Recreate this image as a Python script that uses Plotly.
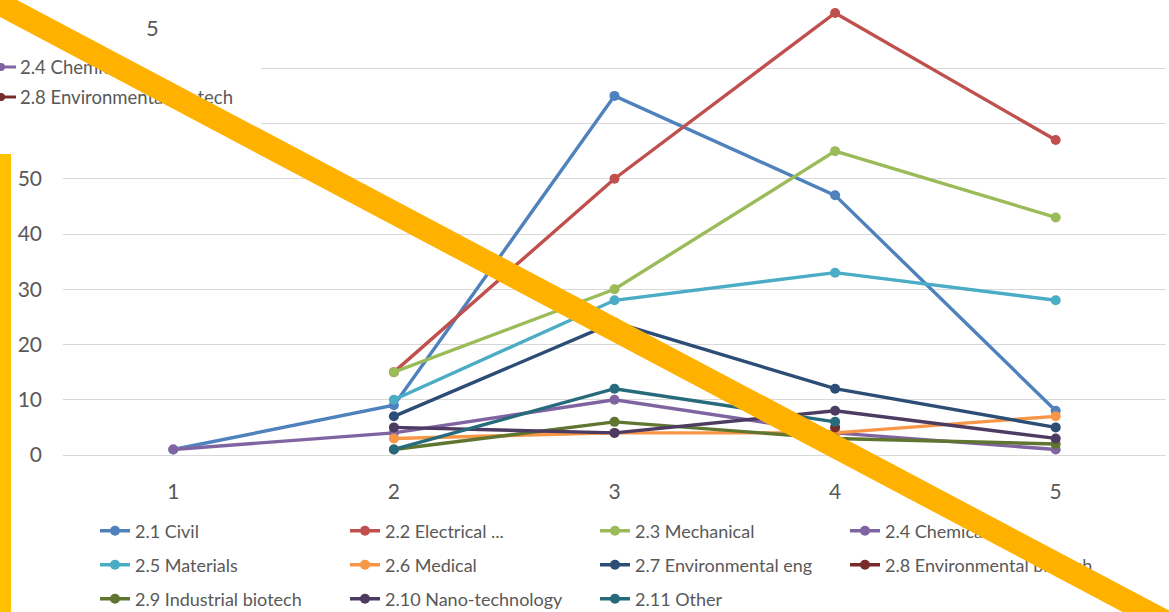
import plotly.graph_objects as go

# Year categories on the horizontal axis
years = [1, 2, 3, 4, 5]
tick_values = [0, 10, 20, 30, 40, 50, 60, 70, 80]
tick_text = ["0", "10", "20", "30", "40", "50", "", "", ""]

# Series values per year (None = no entry)
civil = [1, 9, 65, 47, 8]
electrical = [None, 15, 50, 80, 57]
mechanical = [None, 15, 30, 55, 43]
chemical = [1, 4, 10, 4, 1]
materials = [None, 10, 28, 33, 28]
medical = [None, 3, 4, 4, 7]
env_eng = [None, 7, 24, 12, 5]
env_biotech = [None, None, None, 5, None]
industrial_biotech = [None, 1, 6, 3, 2]
nano = [None, 5, 4, 8, 3]
other = [None, 1, 12, 6, None]

series_names = [
    "2.1 Civil", "2.2 Electrical ...", "2.3 Mechanical", "2.4 Chemical",
    "2.5 Materials", "2.6 Medical", "2.7 Environmental eng", "2.8 Environmental biotech",
    "2.9 Industrial biotech", "2.10 Nano-technology", "2.11 Other",
]
series_values = [civil, electrical, mechanical, chemical, materials, medical,
                 env_eng, env_biotech, industrial_biotech, nano, other]
series_colors = ["#4F81BD", "#C0504D", "#9BBB59", "#8064A2", "#4BACC6", "#F79646",
                 "#2C4D75", "#772C2A", "#5F7530", "#4D3B62", "#276A7C"]
legend_rows = ["legend"] * 4 + ["legend2"] * 4 + ["legend3"] * 3

W, H = 1169, 612
ML, MR, MT, MB = 63, 3, 13, 157
PW, PH = W - ML - MR, H - MT - MB

def px(x):
    return (x - ML) / PW

def py(y):
    return (H - MB - y) / PH

FONT = "Lato"
GREY = "#595959"

fig = go.Figure()
for name, vals, col, lg in zip(series_names, series_values, series_colors, legend_rows):
    fig.add_trace(go.Scatter(
        x=years, y=vals, name=name, mode="lines+markers",
        line=dict(color=col, width=3.4), marker=dict(color=col, size=10),
        cliponaxis=False, legend=lg, connectgaps=False,
    ))

legend_common = dict(orientation="h", xanchor="left", yanchor="middle",
                      bgcolor="rgba(0,0,0,0)", font=dict(family=FONT, size=18, color=GREY),
                      entrywidth=205, entrywidthmode="pixels")

# diagonal band: centre line y = B0 + B1 * x (pixels)
B0, B1 = 4, 0.53

shapes = [
    # blank panel over the upper-left corner
    dict(type="rect", xref="paper", yref="paper", x0=px(-5), x1=px(261), y0=py(150), y1=py(-5),
         fillcolor="white", line=dict(width=0), layer="above"),
    # partial legend markers inside the panel
    dict(type="line", xref="paper", yref="paper", x0=px(0), x1=px(16), y0=py(67), y1=py(67),
         line=dict(color="#8064A2", width=3), layer="above"),
    dict(type="circle", xref="paper", yref="paper", x0=px(-3), x1=px(5), y0=py(71), y1=py(63),
         fillcolor="#8064A2", line=dict(width=0), layer="above"),
    dict(type="line", xref="paper", yref="paper", x0=px(0), x1=px(16), y0=py(97), y1=py(97),
         line=dict(color="#772C2A", width=3), layer="above"),
    dict(type="circle", xref="paper", yref="paper", x0=px(-3), x1=px(5), y0=py(101), y1=py(93),
         fillcolor="#772C2A", line=dict(width=0), layer="above"),
    # vertical bar on the left edge
    dict(type="rect", xref="paper", yref="paper", x0=px(-2), x1=px(11), y0=py(620), y1=py(154),
         fillcolor="#FFC000", line=dict(width=0), layer="above"),
    # diagonal strike band
    dict(type="line", xref="paper", yref="paper", x0=px(-30), y0=py(B0 - B1 * 30),
         x1=px(1200), y1=py(B0 + B1 * 1200),
         line=dict(color="#FFB100", width=23), layer="above"),
]
BAND_INDEX = len(shapes) - 1

annotations = [
    dict(text="5", xref="paper", yref="paper", x=px(152), y=py(28), showarrow=False,
         xanchor="center", yanchor="middle", font=dict(family=FONT, size=22, color=GREY)),
    dict(text="2.4 Chemical", xref="paper", yref="paper", x=px(18), y=py(67), showarrow=False,
         xanchor="left", yanchor="middle", font=dict(family=FONT, size=18.5, color=GREY)),
    dict(text="2.8 Environmental biotech", xref="paper", yref="paper", x=px(18), y=py(97),
         showarrow=False, xanchor="left", yanchor="middle",
         font=dict(family=FONT, size=18.5, color=GREY)),
]

fig.update_layout(
    width=W, height=H,
    margin=dict(l=ML, r=MR, t=MT, b=MB, pad=0, autoexpand=False),
    paper_bgcolor="white", plot_bgcolor="white",
    font=dict(family=FONT, color=GREY),
    xaxis=dict(range=[0.5, 5.5], tickvals=years, showgrid=False, zeroline=False,
               showline=False, ticks="", tickfont=dict(family=FONT, size=21, color=GREY),
               ticklabelstandoff=22),
    yaxis=dict(range=[0, 80], tickvals=tick_values, ticktext=tick_text, showgrid=True,
               gridcolor="#D9D9D9", gridwidth=1, zeroline=True, zerolinecolor="#D9D9D9",
               zerolinewidth=1, showline=False, ticks="",
               tickfont=dict(family=FONT, size=21, color=GREY), ticklabelstandoff=20),
    legend=dict(x=px(95), y=py(531), **legend_common),
    legend2=dict(x=px(95), y=py(565), **legend_common),
    legend3=dict(x=px(95), y=py(599), **legend_common),
    shapes=shapes,
    annotations=annotations,
    showlegend=True,
)

# lift the diagonal band above the legends and annotations
post_js = """
var gd = document.getElementById('{plot_id}');
var layer = gd.querySelector('.layer-above .shapelayer');
if (layer) {
  var kids = Array.prototype.slice.call(layer.children);
  var band = kids.filter(function(e){ return e.getAttribute('data-index') === '%d'; })[0];
  if (band) { gd._fullLayout._toppaper.node().appendChild(band); }
}
""" % BAND_INDEX

fig.write_html("out.html", config={"displayModeBar": False}, post_script=post_js)
